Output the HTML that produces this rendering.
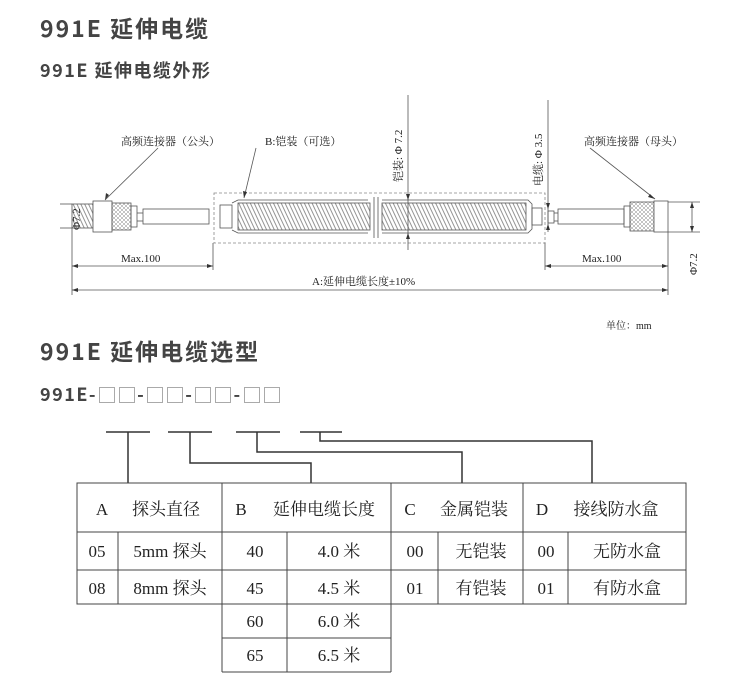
<!DOCTYPE html>
<html><head><meta charset="utf-8"><style>
html,body{margin:0;padding:0;background:#fff;}
body{width:750px;height:697px;position:relative;overflow:hidden;font-family:"Liberation Serif","Noto Serif CJK SC",serif;}
.h{position:absolute;font-family:"Noto Sans CJK SC","Liberation Sans",sans-serif;font-weight:bold;color:#444;white-space:nowrap;}
.b{display:inline-block;width:14px;height:14px;border:1px solid #aaa;margin:0 2px;vertical-align:-2px;}
</style></head><body>
<div class="h" style="left:40px;top:10px;font-size:23px;letter-spacing:2px;">991E 延伸电缆</div>
<div class="h" style="left:40px;top:57px;font-size:18px;letter-spacing:1.5px;">991E 延伸电缆外形</div>
<div class="h" style="left:40px;top:333px;font-size:23px;letter-spacing:2px;">991E 延伸电缆选型</div>
<div class="h" style="left:40px;top:381px;font-size:18px;letter-spacing:1.5px;">991E-<span class="b"></span><span class="b"></span>-<span class="b"></span><span class="b"></span>-<span class="b"></span><span class="b"></span>-<span class="b"></span><span class="b"></span></div>

<svg width="750" height="697" style="position:absolute;left:0;top:0" xmlns="http://www.w3.org/2000/svg">
<defs>
<pattern id="hatch" width="7" height="7" patternUnits="userSpaceOnUse" patternTransform="rotate(-25)">
<line x1="1" y1="0" x2="1" y2="7" stroke="#666" stroke-width="0.7"/>
<line x1="4.5" y1="0" x2="4.5" y2="7" stroke="#666" stroke-width="0.7"/>
</pattern>
<pattern id="knurl" width="4" height="4" patternUnits="userSpaceOnUse">
<path d="M0 0L4 4M4 0L0 4" stroke="#888" stroke-width="0.5"/>
</pattern>
</defs>
<g fill="none" stroke="#555" stroke-width="0.8">
<rect x="72" y="204" width="21" height="24" fill="url(#hatch)"/>
<rect x="93" y="201" width="19" height="31" fill="#fff"/>
<rect x="112" y="203" width="19" height="27" fill="url(#knurl)"/>
<rect x="131" y="206" width="6" height="21"/>
<rect x="143" y="209" width="66" height="15"/>
<line x1="137" y1="213" x2="143" y2="213"/><line x1="137" y1="221" x2="143" y2="221"/>
<rect x="214" y="193" width="331" height="50" stroke-dasharray="3,2" stroke="#888"/>
<rect x="220" y="205" width="12" height="23"/>
<path d="M232 203 L238 200 L368 200 M232 230 L238 233 L368 233"/>
<rect x="238" y="203" width="132" height="27" fill="url(#hatch)"/>
<path d="M382 200 L528 200 L532 204 L532 229 L528 233 L382 233"/>
<rect x="382" y="203" width="144" height="27" fill="url(#hatch)"/>
<rect x="532" y="208" width="10" height="17"/>
<line x1="374" y1="197" x2="374" y2="238"/><line x1="378" y1="197" x2="378" y2="238"/>
<rect x="548" y="211" width="6" height="12"/>
<rect x="558" y="209" width="66" height="15"/>
<line x1="554" y1="213" x2="558" y2="213"/><line x1="554" y1="221" x2="558" y2="221"/>
<rect x="624" y="206" width="6" height="21"/>
<rect x="630" y="202" width="24" height="29" fill="url(#knurl)"/>
<rect x="654" y="201" width="14" height="31" fill="#fff"/>
<line x1="158" y1="148" x2="105" y2="200"/>
<line x1="256" y1="148" x2="244" y2="198"/>
<line x1="590" y1="148" x2="655" y2="199"/>
<line x1="72" y1="228" x2="72" y2="295"/>
<line x1="213" y1="243" x2="213" y2="270"/>
<line x1="545" y1="243" x2="545" y2="270"/>
<line x1="668" y1="232" x2="668" y2="295"/>
<line x1="72" y1="266" x2="213" y2="266"/>
<line x1="545" y1="266" x2="668" y2="266"/>
<line x1="72" y1="290" x2="668" y2="290"/>
<line x1="408" y1="95" x2="408" y2="250"/>
<line x1="548" y1="100" x2="548" y2="232"/>
<line x1="668" y1="202" x2="700" y2="202"/>
<line x1="668" y1="232" x2="700" y2="232"/>
<line x1="692" y1="202" x2="692" y2="232"/>
<line x1="60" y1="204" x2="72" y2="204"/><line x1="60" y1="228" x2="72" y2="228"/>
</g>
<g fill="#333">
<path d="M72 266l6-2v4z M213 266l-6-2v4z M545 266l6-2v4z M668 266l-6-2v4z M72 290l6-2v4z M668 290l-6-2v4z"/>
<path d="M408 200l-2-6h4z M408 233l-2 6h4z M548 209l-2-6h4z M548 224l-2 6h4z M692 202l-2 6h4z M692 232l-2-6h4z"/>
<path d="M105 200l1-7 3 2z M244 198l-1-7 4 1z M655 199l-7-2 2-3z"/>
</g>
<g font-family="Liberation Serif,Noto Serif CJK SC,serif" font-size="11" fill="#222">
<text x="121" y="145">高频连接器（公头）</text>
<text x="265" y="145">B:铠装（可选）</text>
<text x="584" y="145">高频连接器（母头）</text>
<text x="121" y="262">Max.100</text>
<text x="582" y="262">Max.100</text>
<text x="312" y="285">A:延伸电缆长度±10%</text>
<text transform="translate(402,182) rotate(-90)">铠装: Φ 7.2</text>
<text transform="translate(542,186) rotate(-90)">电缆: Φ 3.5</text>
<text transform="translate(80,230) rotate(-90)">Φ7.2</text>
<text transform="translate(697,275) rotate(-90)">Φ7.2</text>
<text x="606" y="329" font-size="10">单位：mm</text>
</g>
<g stroke="#333" stroke-width="1.5" fill="none">
<line x1="106" y1="432" x2="150" y2="432"/><line x1="168" y1="432" x2="212" y2="432"/>
<line x1="236" y1="432" x2="280" y2="432"/><line x1="300" y1="432" x2="342" y2="432"/>
<path d="M128 432V483"/>
<path d="M190 432V463H311V483"/>
<path d="M257 432V452H462V483"/>
<path d="M320 432V441H592V483"/>
</g>
<g stroke="#444" stroke-width="1" fill="none">
<rect x="77" y="483" width="609" height="121"/>
<line x1="77" y1="532" x2="686" y2="532"/>
<line x1="77" y1="570" x2="686" y2="570"/>
<line x1="222" y1="483" x2="222" y2="672"/>
<line x1="391" y1="483" x2="391" y2="672"/>
<line x1="523" y1="483" x2="523" y2="604"/>
<line x1="118" y1="532" x2="118" y2="604"/>
<line x1="287" y1="532" x2="287" y2="672"/>
<line x1="438" y1="532" x2="438" y2="604"/>
<line x1="568" y1="532" x2="568" y2="604"/>
<line x1="222" y1="638" x2="391" y2="638"/>
<line x1="222" y1="672" x2="391" y2="672"/>
</g>
<g font-family="Liberation Serif,Noto Serif CJK SC,serif" font-size="17" fill="#222" text-anchor="middle">
<text x="102" y="515">A</text><text x="166" y="515">探头直径</text>
<text x="241" y="515">B</text><text x="324" y="515">延伸电缆长度</text>
<text x="410" y="515">C</text><text x="474" y="515">金属铠装</text>
<text x="542" y="515">D</text><text x="616" y="515">接线防水盒</text>
<text x="97" y="557">05</text><text x="170" y="557">5mm 探头</text>
<text x="255" y="557">40</text><text x="339" y="557">4.0 米</text>
<text x="415" y="557">00</text><text x="481" y="557">无铠装</text>
<text x="546" y="557">00</text><text x="627" y="557">无防水盒</text>
<text x="97" y="594">08</text><text x="170" y="594">8mm 探头</text>
<text x="255" y="594">45</text><text x="339" y="594">4.5 米</text>
<text x="415" y="594">01</text><text x="481" y="594">有铠装</text>
<text x="546" y="594">01</text><text x="627" y="594">有防水盒</text>
<text x="255" y="627">60</text><text x="339" y="627">6.0 米</text>
<text x="255" y="661">65</text><text x="339" y="661">6.5 米</text>
</g>
</svg>
</body></html>
